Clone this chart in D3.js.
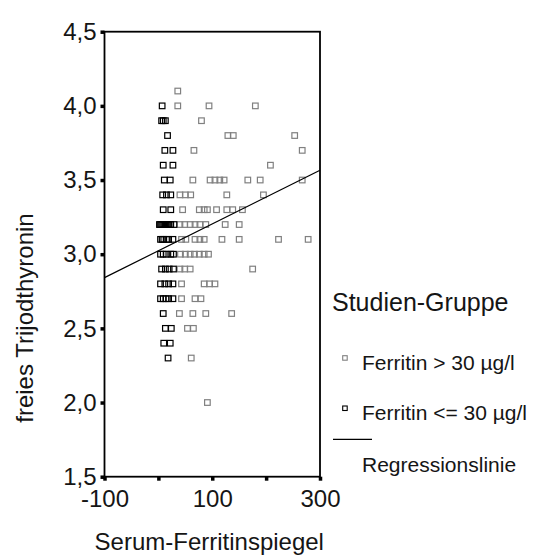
<!DOCTYPE html>
<html>
<head>
<meta charset="utf-8">
<script src="https://cdn.jsdelivr.net/npm/d3@7"></script>
<style>
  body { margin: 0; background: #fff; }
  text { font-family: "Liberation Sans", Arial, sans-serif; fill: #151515; }
</style>
</head>
<body>
<svg id="chart"></svg>
<script>
// Ferritin > 30 ug/l : [serum ferritin, free T3]
const highFerritin = [
  [36, 4.1],
  [36, 4.0], [94, 4.0], [180, 4.0],
  [80, 3.9],
  [129, 3.8], [139, 3.8], [253, 3.8],
  [66, 3.7], [267, 3.7],
  [208, 3.6],
  [64, 3.5], [96, 3.5], [105, 3.5], [114, 3.5], [122, 3.5], [166, 3.5], [189, 3.5], [267, 3.5],
  [40, 3.4], [50, 3.4], [60, 3.4], [127, 3.4], [195, 3.4],
  [45, 3.3], [76, 3.3], [85, 3.3], [91, 3.3], [108, 3.3], [127, 3.3], [138, 3.3], [156, 3.3],
  [40, 3.2], [49, 3.2], [59, 3.2], [68, 3.2], [77, 3.2], [88, 3.2], [124, 3.2], [150, 3.2],
  [43, 3.1], [51, 3.1], [68, 3.1], [77, 3.1], [85, 3.1], [118, 3.1], [150, 3.1], [223, 3.1], [278, 3.1],
  [41, 3.0], [50, 3.0], [59, 3.0], [67, 3.0], [76, 3.0], [85, 3.0], [93, 3.0],
  [40, 2.9], [49, 2.9], [59, 2.9], [175, 2.9],
  [43, 2.8], [85, 2.8], [95, 2.8], [105, 2.8],
  [43, 2.7], [68, 2.7], [79, 2.7],
  [39, 2.6], [64, 2.6], [88, 2.6], [136, 2.6],
  [54, 2.5], [65, 2.5],
  [61, 2.3],
  [91, 2.0]
];

// Ferritin <= 30 ug/l
const lowFerritin = [
  [7, 4.0],
  [6, 3.9], [9, 3.9], [13, 3.9],
  [17, 3.8],
  [12, 3.7], [27, 3.7],
  [9, 3.6], [27, 3.6],
  [11, 3.5], [22, 3.5],
  [8, 3.4], [15, 3.4], [23, 3.4],
  [9, 3.3], [23, 3.3],
  [2, 3.2], [4, 3.2], [6, 3.2], [8, 3.2], [10, 3.2], [12, 3.2], [14, 3.2], [16, 3.2], [18, 3.2], [20, 3.2], [23, 3.2], [29, 3.2],
  [4, 3.1], [7, 3.1], [10, 3.1], [15, 3.1], [19, 3.1], [27, 3.1],
  [4, 3.0], [9, 3.0], [15, 3.0], [23, 3.0], [28, 3.0],
  [6, 2.9], [13, 2.9], [20, 2.9], [28, 2.9],
  [4, 2.8], [12, 2.8], [19, 2.8], [27, 2.8],
  [4, 2.7], [9, 2.7], [14, 2.7], [19, 2.7], [27, 2.7],
  [9, 2.6],
  [13, 2.5], [24, 2.5],
  [10, 2.4], [22, 2.4],
  [18, 2.3]
];

// linear fit
const regression = { intercept: 3.023, slope: 0.00181 };

const xTicks = [-100, 0, 100, 200, 300];
const xLabels = ["-100", "", "100", "", "300"];
const yTicks = [1.5, 2.0, 2.5, 3.0, 3.5, 4.0, 4.5];

const legendItems = ["Ferritin > 30 µg/l", "Ferritin <= 30 µg/l", "Regressionslinie"];

const W = 536, H = 558;
const plot = { left: 104.5, right: 320, top: 31.7, bottom: 476.7 };

const svg = d3.select("#chart").attr("width", W).attr("height", H);
svg.append("rect").attr("width", W).attr("height", H).attr("fill", "#fff");

const x = d3.scaleLinear().domain([-100, 300]).range([plot.left, plot.right]);
const y = d3.scaleLinear().domain([1.5, 4.5]).range([plot.bottom, plot.top]);

// axes
const xAxis = d3.axisBottom(x)
  .tickValues(xTicks)
  .tickFormat((d, i) => xLabels[i])
  .tickSize(4).tickPadding(9).tickSizeOuter(0);
const yAxis = d3.axisLeft(y)
  .tickValues(yTicks)
  .tickFormat(d => d3.format(".1f")(d).replace(".", ","))
  .tickSize(4).tickPadding(4).tickSizeOuter(0);

const gx = svg.append("g").attr("transform", "translate(0," + plot.bottom + ")").call(xAxis);
const gy = svg.append("g").attr("transform", "translate(" + plot.left + ",0)").call(yAxis);

[gx, gy].forEach(g => {
  g.select(".domain").remove();
  g.selectAll(".tick line").attr("stroke", "#000").attr("stroke-width", 3.5);
  g.selectAll(".tick text").attr("font-size", 24).attr("fill", "#151515")
    .attr("font-family", "Liberation Sans, Arial, sans-serif");
});

// frame
svg.append("rect")
  .attr("x", plot.left).attr("y", plot.top)
  .attr("width", plot.right - plot.left).attr("height", plot.bottom - plot.top)
  .attr("fill", "none").attr("stroke", "#000").attr("stroke-width", 1.8);

// points
const s = 5.6;
svg.append("g").selectAll("rect")
  .data(highFerritin).enter().append("rect")
  .attr("x", d => x(d[0]) - s / 2).attr("y", d => y(d[1]) - s / 2)
  .attr("width", s).attr("height", s)
  .attr("fill", "none").attr("stroke", "#808080").attr("stroke-width", 1.2);

svg.append("g").selectAll("rect")
  .data(lowFerritin).enter().append("rect")
  .attr("x", d => x(d[0]) - s / 2).attr("y", d => y(d[1]) - s / 2)
  .attr("width", s).attr("height", s)
  .attr("fill", "none").attr("stroke", "#000").attr("stroke-width", 1.2);

// regression line
const xd = x.domain();
svg.append("line")
  .attr("x1", x(xd[0])).attr("y1", y(regression.intercept + regression.slope * xd[0]))
  .attr("x2", x(xd[1])).attr("y2", y(regression.intercept + regression.slope * xd[1]))
  .attr("stroke", "#000").attr("stroke-width", 1.2);

// axis titles
svg.append("text")
  .attr("x", x(100) - 3).attr("y", 550)
  .attr("text-anchor", "middle").attr("font-size", 24)
  .text("Serum-Ferritinspiegel");

svg.append("text")
  .attr("transform", "translate(33,318) rotate(-90)")
  .attr("text-anchor", "middle").attr("font-size", 24)
  .text("freies Trijodthyronin");

// legend
const lg = svg.append("g");
lg.append("text").attr("x", 332).attr("y", 311).attr("font-size", 25).text("Studien-Gruppe");

lg.append("rect").attr("x", 342.7).attr("y", 355.7).attr("width", 4.5).attr("height", 4.5)
  .attr("fill", "none").attr("stroke", "#808080").attr("stroke-width", 1.1);
lg.append("text").attr("x", 362).attr("y", 370).attr("font-size", 21).text(legendItems[0]);

lg.append("rect").attr("x", 342.7).attr("y", 406).attr("width", 4.5).attr("height", 4.5)
  .attr("fill", "none").attr("stroke", "#000").attr("stroke-width", 1.1);
lg.append("text").attr("x", 362).attr("y", 419.5).attr("font-size", 21).text(legendItems[1]);

lg.append("line").attr("x1", 333).attr("x2", 372).attr("y1", 439.3).attr("y2", 439.3)
  .attr("stroke", "#000").attr("stroke-width", 1.2);
lg.append("text").attr("x", 362).attr("y", 471.5).attr("font-size", 21).text(legendItems[2]);
</script>
</body>
</html>
